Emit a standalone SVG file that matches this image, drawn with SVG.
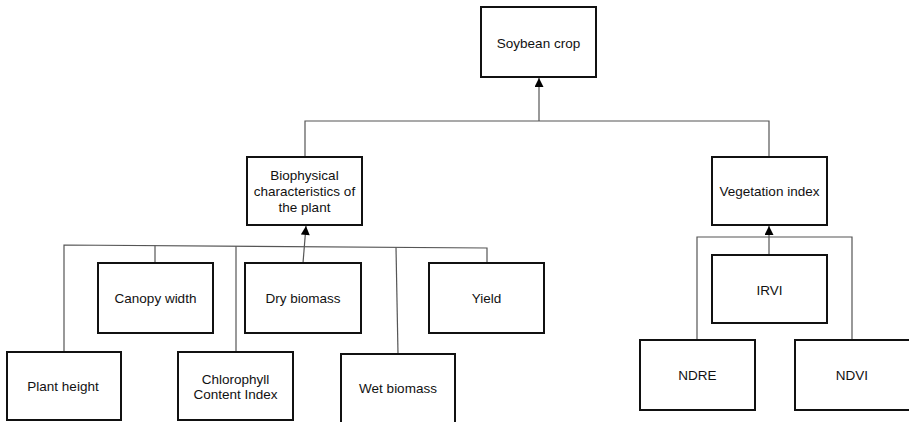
<svg xmlns="http://www.w3.org/2000/svg" width="909" height="422" viewBox="0 0 909 422">
<defs>
<style>
.box{fill:#fff;stroke:#111;stroke-width:2}
.t{font-family:"Liberation Sans",Arial,sans-serif;font-size:13.5px;fill:#111;text-anchor:middle;dominant-baseline:central}
.c{fill:none;stroke:#555;stroke-width:1.2}
</style>
<marker id="ah" viewBox="0 0 10 10" refX="10" refY="5" markerWidth="11" markerHeight="9" markerUnits="userSpaceOnUse" orient="auto"><path d="M0,0 L10,5 L0,10 Z" fill="#000"/></marker>
</defs>
<rect width="909" height="422" fill="#fff"/>
<g id="connectors">
<polyline class="c" points="305,157 305,121 769,121 769,157"/>
<line class="c" x1="539" y1="121" x2="539" y2="78" marker-end="url(#ah)"/>
<polyline class="c" points="64,352 64,245 487,248 487,263"/>
<line class="c" x1="155" y1="245.6" x2="155" y2="263"/>
<line class="c" x1="236" y1="246.2" x2="236" y2="352"/>
<line class="c" x1="396" y1="247.4" x2="398" y2="354"/>
<line class="c" x1="303" y1="263" x2="306" y2="226" marker-end="url(#ah)"/>
<polyline class="c" points="697,340 697,237 852,237 852,340"/>
<line class="c" x1="769" y1="255" x2="769" y2="226" marker-end="url(#ah)"/>
</g>
<g id="soybean"><rect class="box" x="481" y="7" width="115" height="70"/><text class="t" x="538.5" y="43">Soybean crop</text></g>
<g id="biophysical"><rect class="box" x="247" y="157" width="115" height="68"/><text class="t" x="304.5" y="175">Biophysical</text><text class="t" x="304.5" y="191">characteristics of</text><text class="t" x="304.5" y="207">the plant</text></g>
<g id="vegetation"><rect class="box" x="712" y="157" width="115" height="68"/><text class="t" x="769.5" y="191">Vegetation index</text></g>
<g id="canopy"><rect class="box" x="98" y="263" width="115" height="70"/><text class="t" x="155.5" y="298">Canopy width</text></g>
<g id="dry"><rect class="box" x="245" y="263" width="116" height="70"/><text class="t" x="303" y="298">Dry biomass</text></g>
<g id="yield"><rect class="box" x="429" y="263" width="115" height="70"/><text class="t" x="486.5" y="298">Yield</text></g>
<g id="plant-height"><rect class="box" x="7" y="352" width="114" height="68"/><text class="t" x="63" y="386">Plant height</text></g>
<g id="chlorophyll"><rect class="box" x="178" y="352" width="115" height="68"/><text class="t" x="235.5" y="379">Chlorophyll</text><text class="t" x="235.5" y="394">Content Index</text></g>
<g id="wet"><rect class="box" x="341" y="354" width="114" height="70"/><text class="t" x="398" y="388">Wet biomass</text></g>
<g id="irvi"><rect class="box" x="712" y="255" width="115" height="68"/><text class="t" x="769.5" y="290">IRVI</text></g>
<g id="ndre"><rect class="box" x="640" y="340" width="115" height="70"/><text class="t" x="697.5" y="375">NDRE</text></g>
<g id="ndvi"><rect class="box" x="795" y="340" width="116" height="70"/><text class="t" x="852" y="375">NDVI</text></g>
</svg>
